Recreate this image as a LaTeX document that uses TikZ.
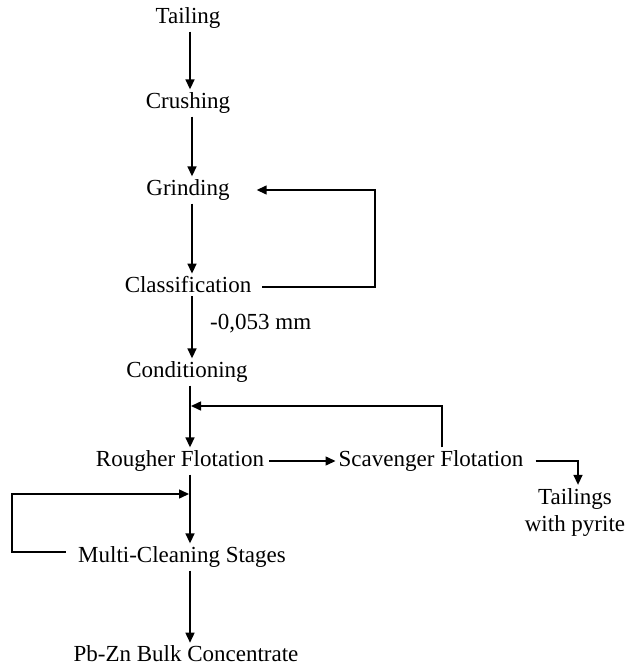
\documentclass[tikz,border=0pt]{standalone}
\usepackage{fontspec}
\setmainfont{Liberation Serif}
\usetikzlibrary{arrows.meta}
\begin{document}
\begin{tikzpicture}[x=1pt,y=-1pt,
  lbl/.style={font=\fontsize{23}{26}\selectfont, inner sep=3pt},
  arr/.style={line width=1.5pt,-{Triangle[length=10pt,width=9pt]}},
  ln/.style={line width=1.5pt}]
\useasboundingbox (0,0) rectangle (630,666);
\node[lbl] (tail) at (188,18) {Tailing};
\node[lbl] (crush) at (188,103) {Crushing};
\node[lbl] (grind) at (188,190) {Grinding};
\node[lbl] (class) at (188,285) {Classification};
\node[lbl] (cond) at (187,372) {Conditioning};
\node[lbl] (rough) at (180,461) {Rougher Flotation};
\node[lbl] (scav) at (431,461) {Scavenger Flotation};
\node[lbl, align=center, font=\fontsize{23}{27}\selectfont] (tp) at (575,512) {Tailings\\with pyrite};
\node[lbl] (clean) at (182,557) {Multi-Cleaning Stages};
\node[lbl] (conc) at (186,654) {Pb-Zn Bulk Concentrate};
\node[lbl, anchor=west] (size) at (207,324) {-0,053 mm};
\coordinate (cx) at (190,0);
\coordinate (cx2) at (192,0);
\draw[arr] (tail.south -| cx) -- (crush.north -| cx);
\draw[arr] (crush.south -| cx2) -- (grind.north -| cx2);
\draw[arr] (grind.south -| cx2) -- (class.north -| cx2);
\draw[arr] (class.south -| cx2) -- (cond.north -| cx2);
\draw[arr] (cond.south -| cx) -- (rough.north -| cx);
\draw[arr] (rough.south -| cx) -- (clean.north -| cx);
\draw[arr] (clean.south -| cx) -- (conc.north -| cx);
% grinding loop
\coordinate (g1) at (375,287);
\coordinate (g2) at (375,190);
\draw[arr] ([xshift=8pt]class.east |- g1) -- (g1) -- (g2) -- ([xshift=24pt]grind.east |- g2);
% rougher -> scavenger
\draw[arr] ([xshift=2pt]rough.east) -- (scav.west);
% scavenger loop
\coordinate (s1) at (442,406);
\coordinate (s2) at (191,406);
\draw[arr] (scav.north -| s1) -- (s1) -- (s2);
% scavenger -> tailings
\coordinate (t1) at (578,461);
\draw[arr] ([xshift=9pt]scav.east) -- (t1) -- (tp.north -| t1);
% cleaning loop
\coordinate (c1) at (12,552);
\coordinate (c2) at (12,494);
\coordinate (c3) at (189,494);
\draw[arr] ([xshift=-9pt]clean.west |- c1) -- (c1) -- (c2) -- (c3);
\end{tikzpicture}
\end{document}
